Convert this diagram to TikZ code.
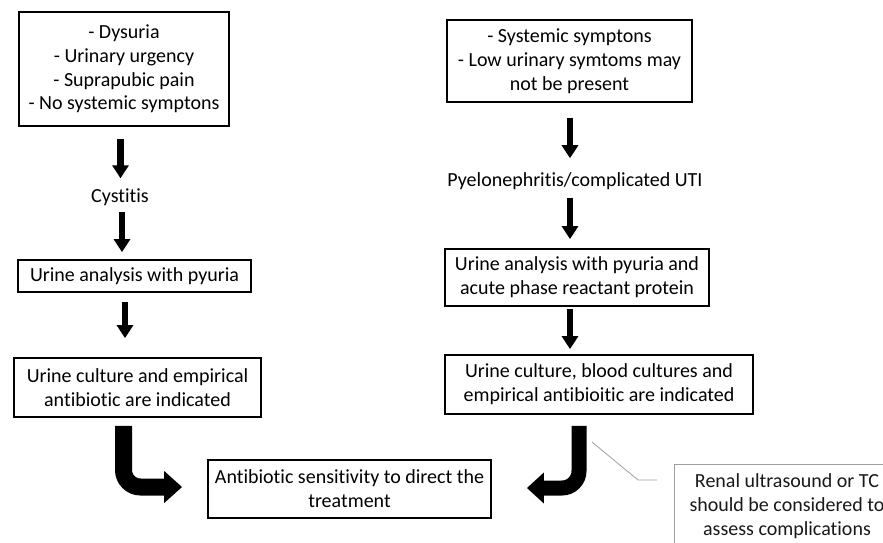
\documentclass[tikz,border=0pt]{standalone}
\usepackage{fontspec}
\setmainfont{Carlito}[Ligatures={NoCommon}]
\usetikzlibrary{arrows.meta,calc}
\newcommand{\fsz}{\fontsize{20pt}{23.8pt}\selectfont}
\begin{document}
\begin{tikzpicture}[x=1pt,y=-1pt,
  box/.style={draw,line width=1.8pt,align=center,inner sep=0pt,font=\fsz},
  lbl/.style={align=center,inner sep=0pt,font=\fsz},
  sarrow/.style={line width=6.5pt,-{Triangle[width=16pt,length=13pt]}},
  barrow/.style={line width=17pt,-{Triangle[width=31pt,length=18pt]},rounded corners=17pt},
  callout/.style={draw=gray!75,line width=0.8pt,align=center,inner sep=0pt,font=\fsz,text=black!90},
  leader/.style={draw=gray!75,line width=0.8pt}
]
\clip (0,0) rectangle (883,543);
\fill[white] (0,0) rectangle (883,543);

% left column
\node[box,minimum width=210pt,minimum height=114pt] (b1) at (124,69)
  {- Dysuria\\- Urinary urgency\\- Suprapubic pain\\- No systemic symptons};
\node[lbl] (cys) at (120,197) {Cystitis};
\node[box,minimum width=233pt,minimum height=32pt] (b2) at (134.5,276) {Urine analysis with pyuria};
\node[box,minimum width=247pt,minimum height=59pt] (b3) at (137.5,387.5) {Urine culture and empirical\\antibiotic are indicated};

% right column
\node[box,minimum width=245pt,minimum height=82pt] (r1) at (569.5,61)
  {- Systemic symptons\\- Low urinary symtoms may\\not be present};
\node[lbl] (pyel) at (575,181) {Pyelonephritis/complicated UTI};
\node[box,minimum width=264pt,minimum height=57pt] (r2) at (577,277.5) {Urine analysis with pyuria and\\acute phase reactant protein};
\node[box,minimum width=308pt,minimum height=59pt] (r3) at (599,384.5) {Urine culture, blood cultures and\\empirical antibioitic are indicated};

% bottom
\node[box,minimum width=283pt,minimum height=58pt] (ab) at (349.5,489) {Antibiotic sensitivity to direct the\\treatment};
\node[callout,minimum width=226pt,minimum height=84pt] (note) at (787,506)
  {Renal ultrasound or TC\\should be considered to\\assess complications};

% straight arrows, left
\draw[sarrow] ($(b1.south -| 120.5,0)+(0,12)$) -- ($(cys.north -| 120.5,0)+(0,-10)$);
\draw[sarrow] ($(cys.south -| 122,0)+(0,6)$) -- ($(b2.north -| 122,0)+(0,-7)$);
\draw[sarrow] ($(b2.south -| 125,0)+(0,9)$) -- ($(b3.north -| 125,0)+(0,-19)$);

% straight arrows, right
\draw[sarrow] ($(r1.south -| 570,0)+(0,15)$) -- ($(pyel.north -| 570,0)+(0,-14)$);
\draw[sarrow] ($(pyel.south -| 570,0)+(0,8)$) -- ($(r2.north -| 570,0)+(0,-9)$);
\draw[sarrow] ($(r2.south -| 570,0)+(0,2)$) -- ($(r3.north -| 570,0)+(0,-5)$);

% bent block arrows
\draw[barrow] ($(b3.south -| 123.5,0)+(0,8)$) |- ($(ab.west)+(-25,-2)$);
\draw[barrow,line width=15pt,-{Triangle[width=30pt,length=17pt]}] ($(r3.south -| 579,0)+(0,11)$) |- ($(ab.east)+(35,-1)$);

% callout leader
\coordinate (l1) at (592,442);
\coordinate (l2) at (638,480);
\coordinate (l3) at (657,480);
\draw[leader] (l1) -- (l2) -- (l3);
\end{tikzpicture}
\end{document}
